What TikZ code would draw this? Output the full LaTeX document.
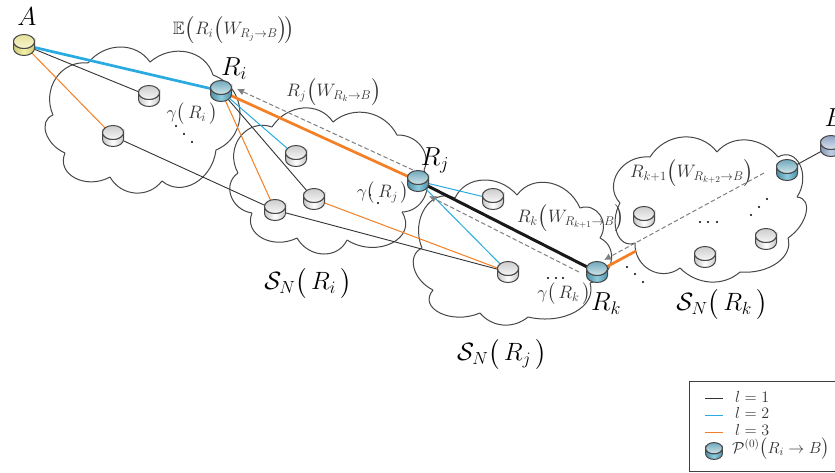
\documentclass[tikz,border=0pt]{standalone}
\usepackage{fix-cm}
\usepackage{amsmath,amssymb}
\usetikzlibrary{arrows.meta}
\definecolor{lblue}{HTML}{29ABE2}
\definecolor{lorange}{HTML}{F47F24}
\definecolor{ldark}{HTML}{333333}
\definecolor{tealtopd}{HTML}{6FA9BC}
\definecolor{tealtopl}{HTML}{D3E6EB}
\definecolor{tealsided}{HTML}{4C90A8}
\definecolor{tealsidel}{HTML}{8FCCDD}
\definecolor{yeltopd}{HTML}{E6E29A}
\definecolor{yeltopl}{HTML}{F8F6D2}
\definecolor{yelsided}{HTML}{CFCB78}
\definecolor{yelsidel}{HTML}{F3EFA8}
\definecolor{blutopd}{HTML}{8FA3C5}
\definecolor{blutopl}{HTML}{DDE3EE}
\definecolor{blusided}{HTML}{8295B8}
\definecolor{blusidel}{HTML}{C2CEE2}
\newcommand{\lp}{\mathopen{\vcenter{\hbox{\fontsize{22.5}{24}\selectfont$\bigl($}}}}
\newcommand{\rp}{\mathclose{\vcenter{\hbox{\fontsize{22.5}{24}\selectfont$\bigr)$}}}}
\newcommand{\lps}{\mathopen{\vcenter{\hbox{\fontsize{18}{20}\selectfont$\bigl($}}}}
\newcommand{\rps}{\mathclose{\vcenter{\hbox{\fontsize{18}{20}\selectfont$\bigr)$}}}}
\tikzset{
  cloudline/.style={draw=black!72,line width=1pt},
  hub/.style={circle,inner sep=0pt,minimum size=21pt},
  linkdark/.style={draw=ldark,line width=.9pt},
  linkblue/.style={draw=lblue,line width=1pt},
  linkorange/.style={draw=lorange,line width=1pt},
  keyline/.style={line width=1.4pt},
  fatblue/.style={draw=lblue,line width=2.7pt},
  fatorange/.style={draw=lorange,line width=2.7pt},
  fatblack/.style={draw=black!90,line width=3pt},
  backarrow/.style={draw=black!50,line width=1pt,dash pattern=on 4.5pt off 2.5pt,-{Latex[length=7pt,width=7pt]}},
  biglabel/.style={inner sep=0pt,font=\fontsize{26}{28}\selectfont},
  setlabel/.style={inner sep=0pt,font=\fontsize{25}{28}\selectfont},
  smalllabel/.style={inner sep=0pt,text=black!80,font=\fontsize{18}{20}\selectfont},
  legendlabel/.style={inner sep=0pt,anchor=west,text=black!80,font=\fontsize{16}{17}\selectfont},
}
% cylinder: #1 scale, #2 name, #3 x, #4 y, #5 top-dark, #6 top-light, #7 side-dark, #8 side-light
\newcommand{\router}[8][1]{%
  \begin{scope}[shift={(#3,-#4)},scale=#1]
    \path[draw=black!72,line width=1pt,left color=#7,right color=#7,middle color=#8]
      (-10.5,3.5) -- (-10.5,-3.5) arc (180:360:10.5 and 7) -- (10.5,3.5) arc (0:-180:10.5 and 7) -- cycle;
    \path[draw=black!72,line width=1pt,top color=#5,bottom color=#6] (0,3.5) ellipse (10.5 and 7);
  \end{scope}}
\newcommand{\grayrouter}[2]{\router{}{#1}{#2}{black!20}{black!3}{black!22}{white}}
\newcommand{\tealrouter}[2]{\router{}{#1}{#2}{tealtopd}{tealtopl}{tealsided}{tealsidel}}
% cloud outline: start x, start y, list of apexx/apexy/endx/endy in image coordinates;
% each bump is a near-circular arc through start, apex and end
\newcommand{\cloudout}[3]{%
  \foreach \mx/\my/\qx/\qy [remember=\qx as \px (initially #1),remember=\qy as \py (initially #2)] in {#3} {
    \pgfmathsetmacro{\dx}{\mx-(\px+\qx)/2}
    \pgfmathsetmacro{\dy}{\my-(\py+\qy)/2}
    \pgfmathsetmacro{\kk}{(1-4*(\dx*\dx+\dy*\dy)/((\qx-\px)*(\qx-\px)+(\qy-\py)*(\qy-\py)))/3}
    \draw[cloudline] (\px,-\py) .. controls
      ({\px+4/3*\dx+\kk*(\qx-\px)},{-\py-4/3*\dy-\kk*(\qy-\py)}) and
      ({\qx+4/3*\dx-\kk*(\qx-\px)},{-\qy-4/3*\dy+\kk*(\qy-\py)}) .. (\qx,-\qy);
  }}
\begin{document}
\begin{tikzpicture}[x=1pt,y=1pt]
\useasboundingbox (0,0) rectangle (835,-472);
\fill[white] (0,0) rectangle (835,-472);

% hubs (connector end points)
\node[hub] (A) at (24,-45) {};
\node[hub] (Ri) at (221,-91) {};
\node[hub] (Rj) at (418,-181) {};
\node[hub] (Rk) at (597,-272) {};
\node[hub] (X) at (787,-170) {};
\node[hub] (B) at (831,-146) {};
\node[hub] (g1) at (149,-96) {};
\node[hub] (g2) at (113,-136) {};
\node[hub] (g3) at (296,-156) {};
\node[hub] (g4) at (314,-199) {};
\node[hub] (g5) at (275,-210) {};
\node[hub] (g6) at (493,-199) {};
\node[hub] (g7) at (508,-272) {};
\coordinate (edge) at (636,-251);
\coordinate (a1s) at (413,-170);
\coordinate (a1e) at (237,-89);
\coordinate (a2s) at (579,-272);
\coordinate (a2e) at (429,-196);
\coordinate (a3s) at (764,-173);
\coordinate (a3e) at (604,-260);

% clouds
\cloudout{88}{63}{120/47/150/62,187/52/213/75,240/112/216/150,195/183/162/181,135/193/110/177,75/178/65/153,46/133/53/115,56/78/88/63}
\cloudout{272}{127}{303/108/333/122,368/113/397/135,421/146/424/170,424/198/402/212,392/243/347/240,323/254/297/238,262/238/252/213,231/196/238/173,240/137/272/127}
\cloudout{455}{198}{483/180/517/195,550/183/580/208,600/215/600/238,611/262/590/283,575/312/528/317,503/325/480/313,440/313/433/290,414/268/422/248,425/208/455/198}
\cloudout{650}{157}{683/137/717/152,747/140/778/157,800/165/797/197,806/213/788/238,777/263/740/272,710/282/680/268,650/270/635/243,617/233/620/203,618/172/650/157}

% links
\draw[linkdark] (A) -- (g1);
\draw[linkorange] (A) -- (g2);
\draw[linkdark] (g2) -- (g5);
\draw[linkdark] (g5) -- (g7);
\draw[linkblue] (Ri) -- (g3);
\draw[linkdark] (Ri) -- (g4);
\draw[linkorange] (Ri) -- (g5);
\draw[linkorange] (g4) -- (g7);
\draw[linkblue] (Rj) -- (g6);
\draw[linkblue] (Rj) -- (g7);
\draw[linkdark] (X) -- (B);
\draw[fatblue] (A) -- (Ri);
\draw[fatorange] (Ri) -- (Rj);
\draw[fatblack] (Rj) -- (Rk);
\draw[fatorange] (Rk) -- (edge);

% dashed return arrows
\draw[backarrow] (a1s) -- (a1e);
\draw[backarrow] (a2s) -- (a2e);
\draw[backarrow] (a3s) -- (a3e);

% dots
\foreach \x/\y in {176/126,184/134,192/142,370/195,378/203,548/278,556/278,563/278,627/267,635/274,643/282,700/222,708/222,717/222,751/215,759/207,767/199}
  \fill (\x,-\y) circle (1.1pt);

% cylinders
\router{}{24}{45}{yeltopd}{yeltopl}{yelsided}{yelsidel}
\tealrouter{221}{91}
\tealrouter{418}{181}
\tealrouter{597}{272}
\tealrouter{787}{170}
\router{}{831}{146}{blutopd}{blutopl}{blusided}{blusidel}
\grayrouter{149}{96}
\grayrouter{113}{136}
\grayrouter{296}{156}
\grayrouter{314}{199}
\grayrouter{275}{210}
\grayrouter{493}{199}
\grayrouter{508}{272}
\grayrouter{644}{217}
\grayrouter{766}{239}
\grayrouter{705}{257}

% labels
\node[biglabel] (lA) at (27,-17) {$A$};
\node[biglabel] (lB) at (835,-118) {$B$};
\node[biglabel] (lRi) at (234,-69) {$R_i$};
\node[biglabel] (lRj) at (435,-160) {$R_j$};
\node[biglabel] (lRk) at (606,-304) {$R_k$};
\node[setlabel] (sRi) at (308,-283) {$\mathcal{S}_N\bigl(\,R_i\,\bigr)$};
\node[setlabel] (sRj) at (502,-354) {$\mathcal{S}_N\bigl(\,R_j\,\bigr)$};
\node[setlabel] (sRk) at (722,-304) {$\mathcal{S}_N\bigl(\,R_k\,\bigr)$};
\node[smalllabel] (e1) at (234,-30) {$\mathbb{E}\lp R_i\lp W_{R_j\to B}\rp\!\rp$};
\node[smalllabel] (e2) at (334,-92) {$R_j\lp W_{R_k\to B}\rp$};
\node[smalllabel] (e3) at (571,-218) {$R_k\lp W_{R_{k+1}\to B}\rp$};
\node[smalllabel] (e4) at (692,-173) {$R_{k+1}\lp W_{R_{k+2}\to B}\rp$};
\node[smalllabel] (g1l) at (192,-114) {$\gamma\bigl(\,R_i\,\bigr)$};
\node[smalllabel] (g2l) at (383,-193) {$\gamma\bigl(\,R_j\,\bigr)$};
\node[smalllabel] (g3l) at (564,-294) {$\gamma\bigl(\,R_k\,\bigr)$};

% legend
\node[draw=black!75,line width=1pt,inner sep=0pt,minimum width=160pt,minimum height=90pt,anchor=north west] (legend) at (689,-381) {};
\coordinate (k1a) at (705,-398.5);\coordinate (k1b) at (723,-398.5);
\coordinate (k2a) at (705,-415.5);\coordinate (k2b) at (723,-415.5);
\coordinate (k3a) at (705,-432.5);\coordinate (k3b) at (723,-432.5);
\draw[linkdark,keyline] (k1a) -- (k1b);
\draw[linkblue,keyline] (k2a) -- (k2b);
\draw[linkorange,keyline] (k3a) -- (k3b);
\node[legendlabel] (k1) at (735,-397) {$l=1$};
\node[legendlabel] (k2) at (735,-413) {$l=2$};
\node[legendlabel] (k3) at (735,-430) {$l=3$};
\router[.8]{}{714}{451}{tealtopd}{tealtopl}{tealsided}{tealsidel}
\node[legendlabel] (k4) at (732,-449) {$\mathcal{P}^{(0)}\lps R_i\to B\rps$};
\end{tikzpicture}
\end{document}
